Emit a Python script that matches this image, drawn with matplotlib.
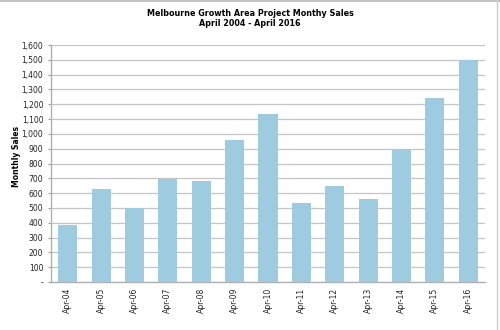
import numpy as np
import matplotlib
matplotlib.use("Agg")
from matplotlib import pyplot as plt
from matplotlib.lines import Line2D
from matplotlib.ticker import FuncFormatter

# monthly sales
labels = ["Apr-04", "Apr-05", "Apr-06", "Apr-07", "Apr-08", "Apr-09", "Apr-10",
          "Apr-11", "Apr-12", "Apr-13", "Apr-14", "Apr-15", "Apr-16"]
sales = [385, 625, 500, 698, 683, 960, 1135, 535, 645, 560, 900, 1245, 1500]
yticks = list(range(0, 1700, 100))


def fmt(v, pos):
    """Thousands separator, dash for zero."""
    if v == 0:
        return "-"
    return "{:,.0f}".format(v)


fig = plt.figure(figsize=(5, 3.3), dpi=100)
ax = fig.add_axes([0.102, 0.1455, 0.868, 0.718])

x = np.arange(len(labels))
ax.bar(x, sales, width=0.57, color="#9fcbe1", zorder=3)

ax.set_xlim(-0.5, len(labels) - 0.5)
ax.set_ylim(0, 1600)
ax.set_yticks(yticks)
ax.yaxis.set_major_formatter(FuncFormatter(fmt))
ax.set_xticks(x)
ax.set_xticklabels(labels, rotation=90, fontsize=5.5, color="#222222")
ax.tick_params(axis="y", labelsize=5.5, labelcolor="#222222", length=2, color="#999999")
ax.tick_params(axis="x", length=0, pad=4)
ax.grid(axis="y", color="#c4c4c4", linewidth=0.9, zorder=0)

for s in ["top", "right"]:
    ax.spines[s].set_visible(False)
for s in ["left", "bottom"]:
    ax.spines[s].set_color("#b0b0b0")
    ax.spines[s].set_linewidth(1.0)

ax.set_ylabel("Monthly Sales", fontsize=5.5, fontweight="bold")
ax.yaxis.set_label_coords(-0.07, 0.53)

fig.text(0.5, 0.972, "Melbourne Growth Area Project Monthy Sales\nApril 2004 - April 2016",
         ha="center", va="top", fontsize=5.8, fontweight="bold", linespacing=1.15)

# screenshot frame edges
fig.add_artist(Line2D([0, 1], [0.996, 0.996], color="#b8b8b8", linewidth=1.2))
fig.add_artist(Line2D([0.994, 0.994], [0, 1], color="#cccccc", linewidth=1.0))

fig.savefig("out.png", dpi=100)
